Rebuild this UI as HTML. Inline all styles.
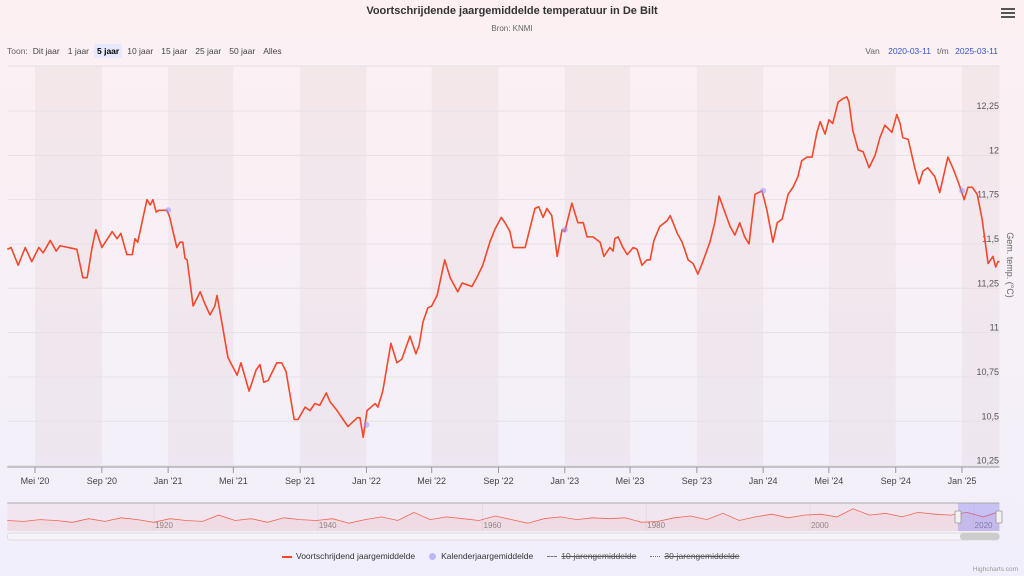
<!DOCTYPE html>
<html><head><meta charset="utf-8"><style>
html,body{margin:0;padding:0;width:1024px;height:576px;overflow:hidden;font-family:"Liberation Sans",sans-serif;}
body{background:linear-gradient(180deg,#fcf0f2 0%,#f6f0f7 60%,#f1effc 100%);}
svg{position:absolute;left:0;top:0}
</style></head><body>
<svg id="c" width="1024" height="576"></svg>
<script>
const days=[0,7,20,33,45,58,66,79,90,97,128,139,147,156,163,174,193,202,209,220,230,235,240,257,263,268,274,279,294,299,305,312,318,323,327,331,342,355,364,373,382,386,397,406,423,430,445,458,465,472,480,496,505,513,528,535,548,557,566,575,587,594,607,618,627,644,649,655,662,677,682,691,706,717,726,741,752,758,765,774,781,791,805,815,829,837,855,864,875,888,897,909,916,925,931,944,953,962,971,978,986,993,1002,1012,1021,1026,1039,1050,1060,1067,1078,1091,1098,1109,1115,1118,1124,1133,1141,1152,1159,1168,1177,1183,1190,1201,1214,1220,1233,1242,1253,1262,1271,1280,1293,1302,1310,1317,1330,1339,1348,1357,1365,1376,1389,1398,1409,1417,1426,1437,1446,1455,1462,1472,1481,1490,1496,1505,1512,1519,1529,1538,1545,1549,1556,1566,1575,1586,1597,1606,1615,1628,1637,1643,1648,1658,1670,1678,1685,1694,1707,1716,1722,1731,1740,1750,1761,1768,1776,1785,1794,1805,1814,1819,1823,1826];
const values=[11.47,11.48,11.38,11.48,11.40,11.48,11.45,11.52,11.46,11.49,11.47,11.31,11.31,11.48,11.58,11.48,11.57,11.53,11.56,11.44,11.44,11.53,11.51,11.75,11.72,11.75,11.68,11.69,11.69,11.65,11.57,11.48,11.51,11.51,11.42,11.41,11.15,11.23,11.16,11.10,11.15,11.21,11.02,10.86,10.76,10.83,10.67,10.79,10.82,10.72,10.73,10.83,10.83,10.78,10.51,10.51,10.58,10.56,10.60,10.59,10.66,10.61,10.56,10.51,10.47,10.52,10.52,10.41,10.56,10.60,10.58,10.67,10.94,10.83,10.85,10.98,10.88,10.93,11.06,11.14,11.15,11.21,11.41,11.31,11.23,11.28,11.26,11.31,11.38,11.51,11.58,11.65,11.62,11.57,11.48,11.48,11.48,11.59,11.70,11.71,11.65,11.70,11.66,11.43,11.58,11.57,11.73,11.62,11.62,11.54,11.54,11.51,11.43,11.48,11.46,11.53,11.54,11.48,11.44,11.48,11.47,11.38,11.41,11.41,11.52,11.60,11.63,11.66,11.56,11.51,11.41,11.39,11.33,11.40,11.51,11.62,11.77,11.71,11.60,11.55,11.62,11.54,11.50,11.78,11.80,11.69,11.51,11.62,11.64,11.78,11.82,11.88,11.97,11.99,11.99,12.13,12.19,12.12,12.20,12.18,12.30,12.32,12.33,12.30,12.14,12.03,12.02,11.93,12.00,12.10,12.17,12.13,12.23,12.18,12.10,12.09,11.93,11.84,11.91,11.93,11.88,11.79,11.87,11.99,11.93,11.85,11.75,11.82,11.82,11.78,11.64,11.39,11.43,11.37,11.40,11.40];
const calDays=[296,661,1026,1391,1757];
const calValues=[11.69,10.48,11.58,11.80,11.80];
const yTicks=[10.25,10.5,10.75,11,11.25,11.5,11.75,12,12.25];
const yTickLabels=["10,25","10,5","10,75","11","11,25","11,5","11,75","12","12,25"];
const xTickDays=[51,174,296,416,539,661,781,904,1026,1146,1269,1391,1512,1635,1757];
const xTickLabels=["Mei '20","Sep '20","Jan '21","Mei '21","Sep '21","Jan '22","Mei '22","Sep '22","Jan '23","Mei '23","Sep '23","Jan '24","Mei '24","Sep '24","Jan '25"];
const navValues=[11.5,11.4,11.6,11.5,11.3,11.7,11.4,11.8,11.6,11.3,11.7,11.5,11.4,12.1,11.5,11.7,11.3,11.8,11.6,11.5,11.7,11.2,11.6,11.9,11.5,12.4,11.6,11.9,11.7,11.5,12.0,11.6,11.2,11.7,11.9,11.6,11.8,11.7,11.8,11.3,11.4,11.8,12.0,11.6,12.3,11.5,11.9,12.2,11.8,12.1,12.2,11.9,12.8,12.1,12.3,11.9,12.4,12.2,12.1,12.4,11.9,12.5];
const navLabels=["1920","1940","1960","1980","2000","2020"];
const navLabelFrac=[0.151,0.316,0.482,0.647,0.812,0.977];

const NS="http://www.w3.org/2000/svg",svg=document.getElementById('c');
function el(t,a,p){const e=document.createElementNS(NS,t);for(const k in a)e.setAttribute(k,a[k]);(p||svg).appendChild(e);return e;}
const X0=7.3,X1=999.5,D1=1826;
const xs=d=>X0+(X1-X0)*d/D1;
const ys=v=>111+(12.25-v)*177.3;
const plotTop=66,plotBot=467;
// bands
for(let i=0;i<xTickDays.length;i+=2){
 const a=xs(xTickDays[i]),b=i+1<xTickDays.length?xs(xTickDays[i+1]):X1;
 const r=el('rect',{x:a,y:plotTop,width:b-a,height:plotBot-plotTop,fill:'rgba(200,170,180,0.13)'});
 
 
}
// grid & y labels
yTicks.forEach((v,i)=>{
 const y=ys(v);
 const g=el('line',{x1:X0,x2:X1,y1:y,y2:y,stroke:'#e6e1e6','stroke-width':1});
 
 
 const t=el('text',{x:999,y:y-2,'text-anchor':'end','font-size':9,fill:'#555'});
 t.textContent=yTickLabels[i];
 
 
});
const topLine=el('line',{x1:X0,x2:X1,y1:plotTop,y2:plotTop,stroke:'#e6e1e6'});


const ax=el('line',{x1:X0,x2:X1,y1:plotBot,y2:plotBot,stroke:'#999','stroke-width':1});


xTickDays.forEach((d,i)=>{
 const x=xs(d);
 const tk=el('line',{x1:x,x2:x,y1:plotBot,y2:plotBot+6,stroke:'#999'});
 
 
 const t=el('text',{x:x,y:484,'text-anchor':'middle','font-size':9,fill:'#444'});
 t.textContent=xTickLabels[i];
 
 
});
const yt=el('text',{x:1007,y:265,'text-anchor':'middle','font-size':9,fill:'#666',transform:'rotate(90 1007 265)'});
yt.textContent='Gem. temp. (°C)';


// line
const pl=el('polyline',{points:days.map((d,i)=>xs(d)+','+ys(values[i])).join(' '),fill:'none',stroke:'#f4472b','stroke-width':1.6,'stroke-linejoin':'round'});


calDays.forEach((d,i)=>{
 const c=el('circle',{cx:xs(d),cy:ys(calValues[i]),r:3,fill:'rgba(150,150,255,0.55)'});
 
 
});
// navigator
const nT=503,nB=531;
const nbg=el('rect',{x:X0,y:nT,width:X1-X0,height:nB-nT,fill:'rgba(240,220,230,0.5)'});


navLabelFrac.forEach((f,i)=>{
 const x=X0+(X1-X0)*f;
 const l=el('line',{x1:x-3,x2:x-3,y1:nT,y2:nB,stroke:'#e4dde4'});
 
 
 const t=el('text',{x:x-2,y:528,'font-size':8,fill:'#888'});
 t.textContent=navLabels[i];
 
 
});
const nx=i=>X0+(X1-X0)*i/(navValues.length-1);
const ny=v=>nB-6-(v-11.0)*9;
const npts=navValues.map((v,i)=>nx(i)+','+ny(v)).join(' ');
const na=el('polygon',{points:X0+','+nB+' '+npts+' '+X1+','+nB,fill:'rgba(244,71,43,0.06)'});


const nl=el('polyline',{points:npts,fill:'none',stroke:'#f4472b','stroke-width':0.8,opacity:0.8});


const sel=el('rect',{x:958,y:nT,width:X1-958,height:nB-nT,fill:'rgba(102,110,255,0.3)'});


const nbt=el('line',{x1:X0,x2:X1,y1:nT,y2:nT,stroke:'#aaa'});


[958,999].forEach(x=>{
 const h=el('rect',{x:x-3,y:511,width:6,height:12,fill:'#f2f2f2',stroke:'#999','stroke-width':0.8,rx:1});
 
 
});
const sb=el('rect',{x:X0,y:533,width:X1-X0,height:7,fill:'#f5f3f7',stroke:'#ddd',rx:3});


const sth=el('rect',{x:960,y:533,width:39,height:7,fill:'#ccc',rx:3});


</script>

<div style="position:absolute;top:5px;left:0;width:1024px;text-align:center;font-size:11px;font-weight:bold;color:#333">Voortschrijdende jaargemiddelde temperatuur in De Bilt</div>
<div style="position:absolute;top:24px;left:0;width:1024px;text-align:center;font-size:8px;color:#666">Bron: KNMI</div>
<div style="position:absolute;top:6px;left:1001px;width:14px;height:14px;">
 <div style="height:2px;background:#555;margin-top:2px"></div><div style="height:2px;background:#555;margin-top:2px"></div><div style="height:2px;background:#555;margin-top:2px"></div></div>
<div style="position:absolute;top:44px;left:7px;font-size:8.5px;color:#444;display:flex;gap:2px;align-items:center">
 <span style="color:#666">Toon:</span>
 <span style="padding:2px 3px">Dit jaar</span>
 <span style="padding:2px 3px">1 jaar</span>
 <span style="padding:2px 3px;background:#e6e9ff;font-weight:bold;color:#000">5 jaar</span>
 <span style="padding:2px 3px">10 jaar</span>
 <span style="padding:2px 3px">15 jaar</span>
 <span style="padding:2px 3px">25 jaar</span>
 <span style="padding:2px 3px">50 jaar</span>
 <span style="padding:2px 3px">Alles</span>
</div>
<div style="position:absolute;top:46px;right:26px;font-size:8.5px;color:#666">
 <span>Van</span> <span style="color:#3355cc;margin:0 6px">2020-03-11</span><span>t/m</span> <span style="color:#3355cc;margin-left:4px">2025-03-11</span></div>
<div style="position:absolute;top:551px;left:282px;font-size:8.5px;color:#333;display:flex;gap:14px;align-items:center">
 <span><span style="display:inline-block;width:10px;height:2px;background:#f4472b;vertical-align:middle;margin-right:4px"></span>Voortschrijdend jaargemiddelde</span>
 <span><span style="display:inline-block;width:7px;height:7px;border-radius:50%;background:#b8b8ff;vertical-align:middle;margin-right:5px"></span>Kalenderjaargemiddelde</span>
 <span style="color:#555"><span style="display:inline-block;width:10px;border-top:1.5px dashed #777;vertical-align:middle;margin-right:4px"></span><s>10-jarengemiddelde</s></span>
 <span style="color:#555"><span style="display:inline-block;width:10px;border-top:1.5px dotted #777;vertical-align:middle;margin-right:4px"></span><s>30-jarengemiddelde</s></span>
</div>
<div style="position:absolute;top:566px;right:6px;font-size:6.5px;color:#999">Highcharts.com</div>
</body></html>
